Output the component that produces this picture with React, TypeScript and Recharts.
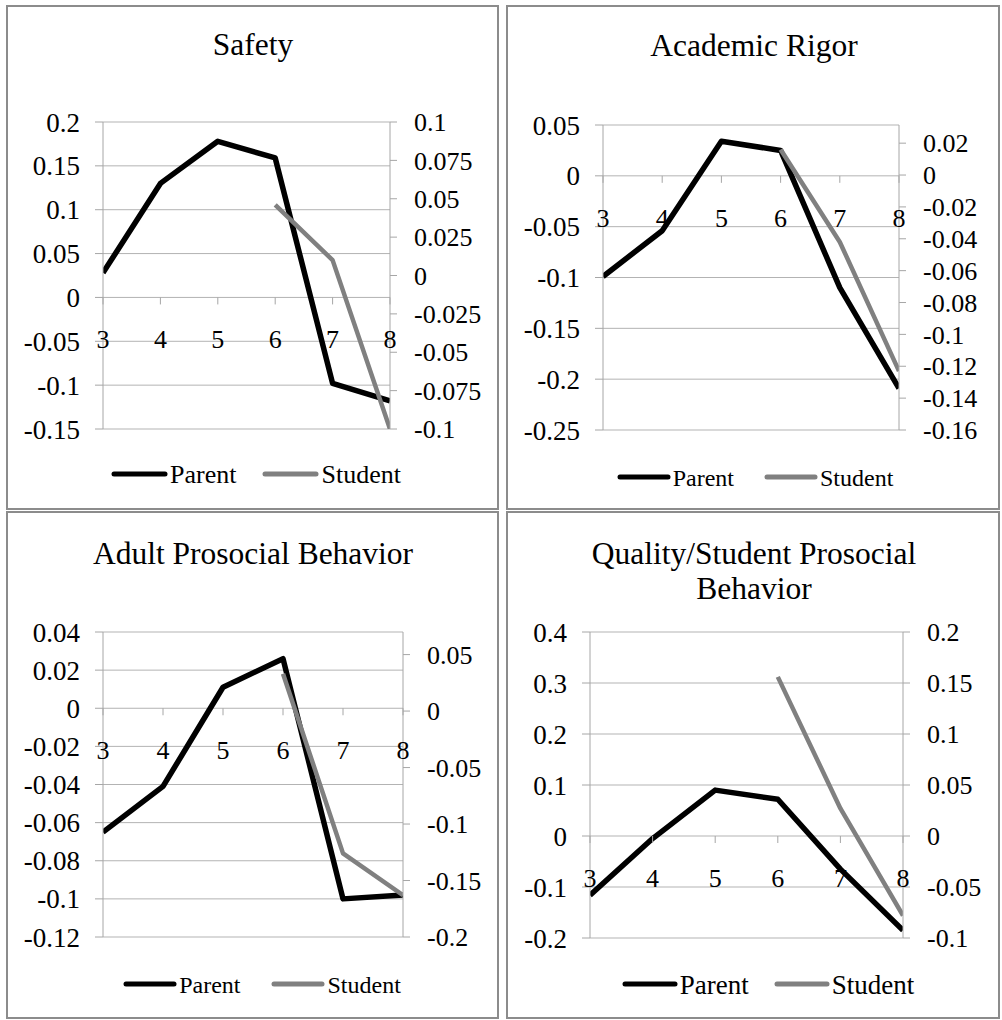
import React from 'react';
import { LineChart, Line, XAxis, YAxis, CartesianGrid, Legend } from 'recharts';

const grades = ['3', '4', '5', '6', '7', '8'];

const safetyParent = [0.028, 0.13, 0.178, 0.159, -0.098, -0.118];
const safetyStudent = [null, null, null, 0.046, 0.01, -0.1];
const safetyLeftTicks = [-0.15, -0.1, -0.05, 0, 0.05, 0.1, 0.15, 0.2];
const safetyRightTicks = [-0.1, -0.075, -0.05, -0.025, 0, 0.025, 0.05, 0.075, 0.1];

const rigorParent = [-0.099, -0.054, 0.034, 0.025, -0.11, -0.209];
const rigorStudent = [null, null, null, 0.016, -0.042, -0.123];
const rigorLeftTicks = [-0.25, -0.2, -0.15, -0.1, -0.05, 0, 0.05];
const rigorRightTicks = [-0.16, -0.14, -0.12, -0.1, -0.08, -0.06, -0.04, -0.02, 0, 0.02];

const adultParent = [-0.065, -0.041, 0.011, 0.026, -0.1, -0.098];
const adultStudent = [null, null, null, 0.033, -0.126, -0.163];
const adultLeftTicks = [-0.12, -0.1, -0.08, -0.06, -0.04, -0.02, 0, 0.02, 0.04];
const adultRightTicks = [-0.2, -0.15, -0.1, -0.05, 0, 0.05];

const qualityParent = [-0.116, -0.005, 0.09, 0.072, -0.065, -0.185];
const qualityStudent = [null, null, null, 0.156, 0.027, -0.078];
const qualityLeftTicks = [-0.2, -0.1, 0, 0.1, 0.2, 0.3, 0.4];
const qualityRightTicks = [-0.1, -0.05, 0, 0.05, 0.1, 0.15, 0.2];

const seriesNames = ['Parent', 'Student'];

const build = (parent: (number | null)[], student: (number | null)[]) =>
  grades.map((g, i) => ({ grade: g, Parent: parent[i], Student: student[i] }));

const FONT = '"Liberation Serif", "Times New Roman", serif';
const GRID = '#b3b3b3';
const AXIS = '#a6a6a6';

type PanelCfg = {
  title: string[];
  titleX: number;
  titleY: number[];
  box: { left: number; top: number; w: number; h: number };
  plot: { L: number; R: number; T: number; B: number };
  data: any[];
  leftDomain: [number, number];
  rightDomain: [number, number];
  leftTicks: number[];
  rightTicks: number[];
  legend: { cx: number; cy: number; fs: number; len: number; gap: number };
};

const panels: PanelCfg[] = [
  {
    title: ['Safety'],
    titleX: 253,
    titleY: [55],
    box: { left: 6, top: 5, w: 493, h: 505 },
    plot: { L: 103, R: 390, T: 122, B: 429 },
    data: build(safetyParent, safetyStudent),
    leftDomain: [-0.15, 0.2],
    rightDomain: [-0.1, 0.1],
    leftTicks: safetyLeftTicks,
    rightTicks: safetyRightTicks,
    legend: { cx: 256, cy: 475, fs: 26, len: 57, gap: 26 },
  },
  {
    title: ['Academic Rigor'],
    titleX: 754,
    titleY: [56],
    box: { left: 506, top: 5, w: 494, h: 505 },
    plot: { L: 603, R: 899, T: 125, B: 430 },
    data: build(rigorParent, rigorStudent),
    leftDomain: [-0.25, 0.05],
    rightDomain: [-0.16, 0.0314],
    leftTicks: rigorLeftTicks,
    rightTicks: rigorRightTicks,
    legend: { cx: 755, cy: 478, fs: 24, len: 54, gap: 30 },
  },
  {
    title: ['Adult Prosocial Behavior'],
    titleX: 253,
    titleY: [564],
    box: { left: 6, top: 511, w: 493, h: 508 },
    plot: { L: 103, R: 403, T: 632, B: 937 },
    data: build(adultParent, adultStudent),
    leftDomain: [-0.12, 0.04],
    rightDomain: [-0.2, 0.07],
    leftTicks: adultLeftTicks,
    rightTicks: adultRightTicks,
    legend: { cx: 262, cy: 985, fs: 24, len: 54, gap: 31 },
  },
  {
    title: ['Quality/Student Prosocial', 'Behavior'],
    titleX: 754,
    titleY: [564, 599],
    box: { left: 506, top: 511, w: 494, h: 508 },
    plot: { L: 590, R: 903, T: 632, B: 938 },
    data: build(qualityParent, qualityStudent),
    leftDomain: [-0.2, 0.4],
    rightDomain: [-0.1, 0.2],
    leftTicks: qualityLeftTicks,
    rightTicks: qualityRightTicks,
    legend: { cx: 768, cy: 985, fs: 27, len: 56, gap: 25 },
  },
];

const YW = 70;
const XH = 30;
const BORDER = 2;

function Panel({ cfg }: { cfg: PanelCfg }) {
  const ox = cfg.box.left + BORDER;
  const oy = cfg.box.top + BORDER;
  const iw = cfg.box.w - 2 * BORDER;
  const ih = cfg.box.h - 2 * BORDER;
  const { L, R, T, B } = cfg.plot;
  const margin = {
    left: L - ox - YW,
    right: ox + iw - R - YW,
    top: T - oy,
    bottom: oy + ih - B - XH,
  };
  const [lmin, lmax] = cfg.leftDomain;
  const zeroY = T - oy + ((B - T) * lmax) / (lmax - lmin);

  const XTick = (props: any) => {
    const { x, payload } = props;
    return (
      <g>
        <line x1={x} x2={x} y1={zeroY} y2={zeroY + 7} stroke={AXIS} strokeWidth={1} />
        <text
          x={x}
          y={zeroY + 51}
          textAnchor="middle"
          fontFamily={FONT}
          fontSize={26}
          fill="#000"
        >
          {payload.value}
        </text>
      </g>
    );
  };

  const lg = cfg.legend;
  const legendContent = (props: any) => {
    const payload = props.payload || [];
    return (
      <div
        style={{
          display: 'flex',
          justifyContent: 'center',
          alignItems: 'center',
          fontFamily: FONT,
          fontSize: lg.fs,
          lineHeight: '30px',
          color: '#000',
        }}
      >
        {payload.map((e: any, i: number) => (
          <div
            key={i}
            style={{ display: 'flex', alignItems: 'center', marginLeft: i === 0 ? 0 : lg.gap }}
          >
            <svg width={lg.len} height={10} style={{ display: 'block', marginTop: -3 }}>
              <line
                x1={3}
                x2={lg.len - 3}
                y1={5}
                y2={5}
                stroke={e.color}
                strokeWidth={5}
                strokeLinecap="round"
              />
            </svg>
            <span style={{ marginLeft: 2 }}>{e.value}</span>
          </div>
        ))}
      </div>
    );
  };

  return (
    <div
      style={{
        position: 'absolute',
        left: cfg.box.left,
        top: cfg.box.top,
        width: cfg.box.w,
        height: cfg.box.h,
        border: `${BORDER}px solid #8c8c8c`,
        boxSizing: 'border-box',
        background: '#fff',
      }}
    >
      <LineChart width={iw} height={ih} data={cfg.data} margin={margin}>
        <CartesianGrid yAxisId="left" vertical={false} stroke={GRID} strokeWidth={1} />
        <XAxis
          dataKey="grade"
          height={XH}
          axisLine={false}
          tickLine={false}
          tickSize={0}
          tickMargin={0}
          tick={XTick}
          interval={0}
          allowDataOverflow
        />
        <YAxis
          yAxisId="left"
          orientation="left"
          width={YW}
          domain={cfg.leftDomain}
          ticks={cfg.leftTicks}
          allowDataOverflow
          interval={0}
          axisLine={{ stroke: AXIS }}
          tickLine={{ stroke: AXIS }}
          tickSize={8}
          tickMargin={15}
          tick={{ fontFamily: FONT, fontSize: 27, fill: '#000' }}
          tickFormatter={(v: number) => String(v)}
        />
        <YAxis
          yAxisId="right"
          orientation="right"
          width={YW}
          domain={cfg.rightDomain}
          ticks={cfg.rightTicks}
          allowDataOverflow
          interval={0}
          axisLine={{ stroke: AXIS }}
          tickLine={{ stroke: AXIS }}
          tickSize={7}
          tickMargin={17}
          tick={{ fontFamily: FONT, fontSize: 26, fill: '#000' }}
          tickFormatter={(v: number) => String(v)}
        />
        <Line
          yAxisId="left"
          dataKey={seriesNames[0]}
          name={seriesNames[0]}
          stroke="#000000"
          strokeWidth={5.5}
          strokeLinejoin="round"
          dot={false}
          activeDot={false}
          isAnimationActive={false}
        />
        <Line
          yAxisId="right"
          dataKey={seriesNames[1]}
          name={seriesNames[1]}
          stroke="#808080"
          strokeWidth={4.5}
          strokeLinejoin="round"
          dot={false}
          activeDot={false}
          isAnimationActive={false}
        />
        <Legend
          layout="horizontal"
          verticalAlign="middle"
          align="center"
          content={legendContent}
          wrapperStyle={{
            position: 'absolute',
            left: lg.cx - ox - 220,
            width: 440,
            top: lg.cy - oy - 15,
            height: 30,
          }}
        />
      </LineChart>
    </div>
  );
}

export default function App() {
  return (
    <div
      style={{
        position: 'absolute',
        left: 0,
        top: 0,
        width: 1002,
        height: 1020,
        background: '#fff',
        overflow: 'hidden',
      }}
    >
      {panels.map((p, i) => (
        <Panel key={i} cfg={p} />
      ))}
      <svg
        width={1002}
        height={1020}
        style={{ position: 'absolute', left: 0, top: 0, pointerEvents: 'none' }}
      >
        {panels.map((p, i) =>
          p.title.map((t, j) => (
            <text
              key={`${i}-${j}`}
              x={p.titleX}
              y={p.titleY[j]}
              textAnchor="middle"
              fontFamily={FONT}
              fontSize={31.5}
              fill="#000"
            >
              {t}
            </text>
          ))
        )}
      </svg>
    </div>
  );
}
